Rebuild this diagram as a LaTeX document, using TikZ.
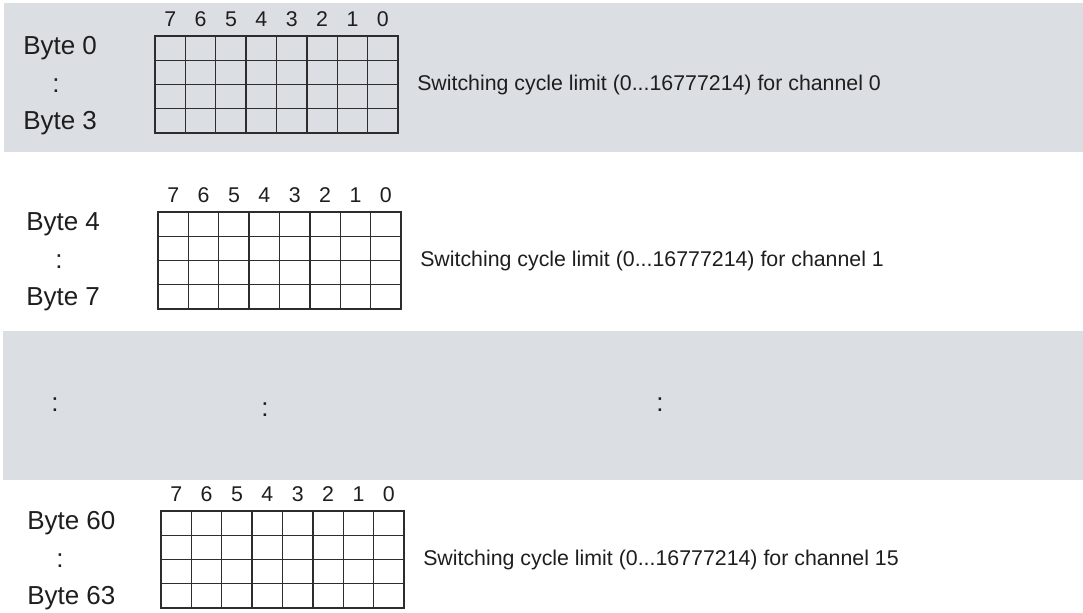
\documentclass[tikz,border=0pt]{standalone}
\usepackage{fontspec}
\setmainfont{Liberation Sans}
\usetikzlibrary{positioning}
\definecolor{bandgray}{RGB}{219,223,227}
\definecolor{gridline}{RGB}{45,45,45}
\definecolor{textcol}{RGB}{30,30,30}

\tikzset{
  bytelabel/.style={font=\fontsize{19.5}{22}\selectfont, text=textcol, anchor=west, inner sep=0pt},
  colonmark/.style={font=\fontsize{19.5}{22}\selectfont, text=textcol, inner sep=0pt},
  bitlabel/.style={font=\fontsize{16}{18}\selectfont, text=textcol, inner sep=0pt},
  desc/.style={font=\fontsize{16}{19}\selectfont, text=textcol, anchor=west, inner sep=0pt},
  byteline/.style={draw=gridline, line width=1pt},
}

\begin{document}
\begin{tikzpicture}[x=0.75pt, y=-0.75pt]
    \useasboundingbox (0,0) rectangle (1083,612);
    \fill[white] (0,0) rectangle (1083,612);

    % grey bands
    \fill[bandgray] (4,3) rectangle (1083,152);
    \fill[bandgray] (3,331) rectangle (1083,480);

    % byte blocks: grid corner / label x / first byte / last byte / channel
    \foreach \gx/\gy/\lx/\first/\last/\ch/\tx in
        {155/36/23/0/3/0/417, 158/212/26/4/7/1/420, 161/511/27/60/63/15/423}{
        \draw[byteline] (\gx,\gy) rectangle ++(243,97);
        \foreach \i in {1,...,7}
            \draw[byteline] (\gx+\i*30.375,\gy) -- ++(0,97);
        \foreach \j in {1,2,3}
            \draw[byteline] (\gx,\gy+\j*24.25) -- ++(243,0);
        \foreach \b in {0,...,7}
            \node[bitlabel] (bit\ch-\b) at (\gx+15.2+7*30.375-\b*30.375,\gy-16.5) {\b};

        \node[bytelabel] (first\ch) at (\lx,\gy+12) {Byte \first};
        \node[colonmark] (colon\ch) at (\lx+33,\gy+50) {:};
        \node[bytelabel] (last\ch) at (\lx,\gy+87) {Byte \last};

        \node[desc] (desc\ch) at (\tx,\gy+49)
            {Switching cycle limit (0...16777214) for channel \ch};
    }

    % omitted channels
    \node[colonmark] (skipa) at (55,405) {:};
    \node[colonmark] (skipb) at (265,410) {:};
    \node[colonmark] (skipc) at (660,405) {:};
\end{tikzpicture}
\end{document}
